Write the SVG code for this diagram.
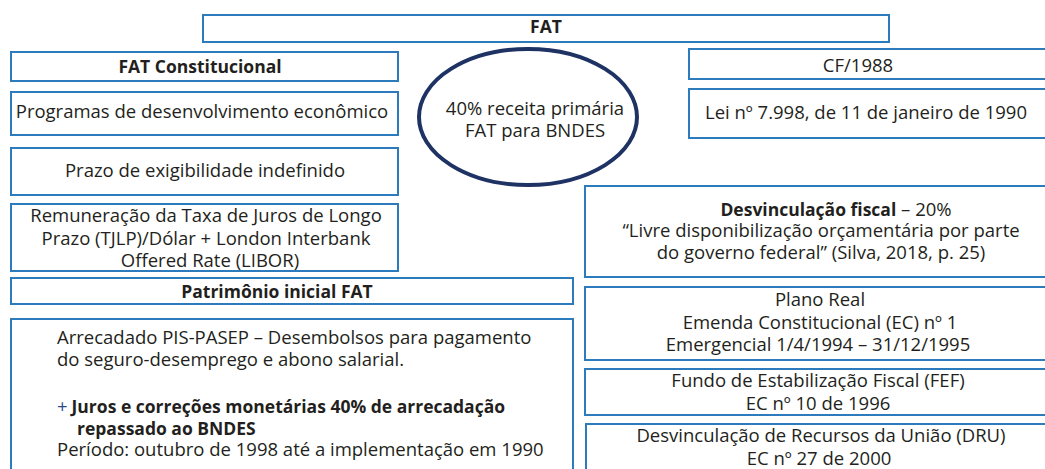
<svg xmlns="http://www.w3.org/2000/svg" width="1045" height="469" viewBox="0 0 1045 469">
<style>
.box{fill:#fff;stroke:#2b7bbd;stroke-width:2}
text{font-family:"Open Sans","Noto Sans","Liberation Sans",sans-serif;font-size:18.5px;fill:#231f20}
.c{text-anchor:middle}
.b{font-weight:bold;font-size:17.5px}
</style>
<rect width="1045" height="469" fill="#fff"/>
<g id="connectors"></g>
<g id="fat"><rect class="box" x="203" y="15" width="686" height="27"/><text class="c b" x="546" y="33">FAT</text></g>
<g id="fat-constitucional"><rect class="box" x="11" y="52" width="387" height="29"/><text class="c b" x="200" y="73">FAT Constitucional</text></g>
<g id="programas"><rect class="box" x="11" y="92" width="387" height="43"/><text class="c" x="202" y="118">Programas de desenvolvimento econômico</text></g>
<g id="prazo"><rect class="box" x="11" y="148" width="387" height="47"/><text class="c" x="205" y="177">Prazo de exigibilidade indefinido</text></g>
<g id="remuneracao"><rect class="box" x="11" y="204" width="387" height="67"/>
<text class="c" x="206" y="222">Remuneração da Taxa de Juros de Longo</text>
<text class="c" x="206" y="245">Prazo (TJLP)/Dólar + London Interbank</text>
<text class="c" x="210" y="267">Offered Rate (LIBOR)</text></g>
<g id="patrimonio"><rect class="box" x="11" y="278" width="562" height="26"/><text class="c b" x="277" y="298">Patrimônio inicial FAT</text></g>
<g id="arrecadado"><rect class="box" x="11" y="319" width="562" height="160"/>
<text x="57" y="344">Arrecadado PIS-PASEP – Desembolsos para pagamento</text>
<text x="57" y="366">do seguro-desemprego e abono salarial.</text>
<text x="57" y="413"><tspan fill="#2b4a8a">+</tspan><tspan class="b" dx="4">Juros e correções monetárias 40% de arrecadação</tspan></text>
<text class="b" x="77" y="435">repassado ao BNDES</text>
<text x="57" y="456">Período: outubro de 1998 até a implementação em 1990</text></g>
<g id="receita"><ellipse cx="528" cy="117" rx="109" ry="68" fill="#fff" stroke="#1e3263" stroke-width="4"/>
<text class="c" x="535" y="115">40% receita primária</text>
<text class="c" x="535" y="137">FAT para BNDES</text></g>
<g id="cf1988"><rect class="box" x="689" y="49" width="370" height="30"/><text class="c" x="858" y="72">CF/1988</text></g>
<g id="lei"><rect class="box" x="689" y="89" width="370" height="49"/><text class="c" x="866" y="119">Lei nº 7.998, de 11 de janeiro de 1990</text></g>
<g id="desvinculacao"><rect class="box" x="585" y="186" width="470" height="91"/>
<text class="c" x="836" y="216"><tspan class="b">Desvinculação fiscal</tspan> – 20%</text>
<text class="c" x="821" y="237">“Livre disponibilização orçamentária por parte</text>
<text class="c" x="821" y="259">do governo federal” (Silva, 2018, p. 25)</text></g>
<g id="plano-real"><rect class="box" x="585" y="287" width="470" height="73"/>
<text class="c" x="820" y="306">Plano Real</text>
<text class="c" x="820" y="329">Emenda Constitucional (EC) nº 1</text>
<text class="c" x="818" y="351">Emergencial 1/4/1994 – 31/12/1995</text></g>
<g id="fef"><rect class="box" x="585" y="369" width="470" height="46"/>
<text class="c" x="818" y="387">Fundo de Estabilização Fiscal (FEF)</text>
<text class="c" x="818" y="410">EC nº 10 de 1996</text></g>
<g id="dru"><rect class="box" x="586" y="424" width="470" height="55"/>
<text class="c" x="821" y="442">Desvinculação de Recursos da União (DRU)</text>
<text class="c" x="819" y="465">EC nº 27 de 2000</text></g>
</svg>
